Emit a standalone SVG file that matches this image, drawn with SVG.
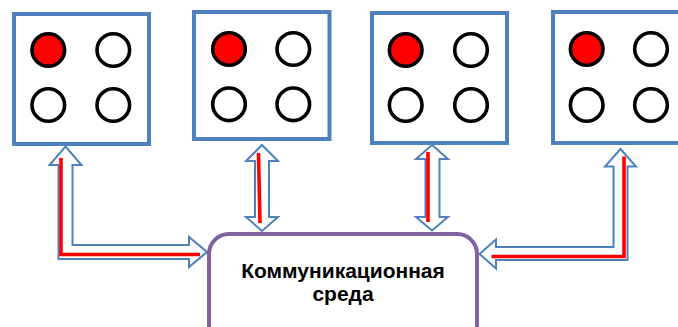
<svg xmlns="http://www.w3.org/2000/svg" width="678" height="327" viewBox="0 0 678 327">
<style>
.box{fill:#fff;stroke:#4F81BD;stroke-width:4}
.c{fill:#fff;stroke:#000;stroke-width:3.6}
.r{fill:#FF0000}
.arr{fill:#fff;stroke:#4F81BD;stroke-width:2;stroke-linejoin:miter}
.red{fill:none;stroke:#FF0000;stroke-width:3.6;stroke-linejoin:miter}
.hub{fill:#fff;stroke:#8064A2;stroke-width:4}
.t{font-family:"Liberation Sans",Arial,sans-serif;font-weight:bold;font-size:21px;fill:#000;text-anchor:middle}
</style>
<rect width="678" height="327" fill="#fff"/>
<g id="connectors">
<polygon class="arr" points="65.5,146.5 81.5,165 72.5,165 72.5,245 189,245 189,237 207,252 189,267 189,259 58.5,259 58.5,165 49.5,165"/>
<polyline class="red" points="61,158 61,254.5 200,254.5"/>
<polygon class="arr" points="262,145 278,161 269,161 269,217 278,217 262,231 246,217 255,217 255,161 246,161"/>
<line class="red" x1="258.5" y1="153" x2="260" y2="223"/>
<polygon class="arr" points="432,145 448,159 439.5,159 439.5,217 448,217 432,230.5 416,217 425.5,217 425.5,159 416,159"/>
<line class="red" x1="428" y1="152" x2="428" y2="222"/>
<polygon class="arr" points="620.5,149 636,166.5 627.5,166.5 627.5,260 496,260 496,268.5 479.5,254 496,239.5 496,247 613.5,247 613.5,166.5 605,166.5"/>
<polyline class="red" points="624,156.5 624,256.5 491.5,256.5"/>
</g>
<g id="node1">
<rect class="box" x="14" y="14" width="135" height="130"/>
<circle class="c r" cx="48.3" cy="50" r="16.3"/>
<circle class="c" cx="113.3" cy="50" r="16.3"/>
<circle class="c" cx="48.3" cy="105" r="16.3"/>
<circle class="c" cx="113.3" cy="105" r="16.3"/>
</g>
<g id="node2">
<rect class="box" x="194" y="12" width="135.5" height="127"/>
<circle class="c r" cx="229" cy="49" r="16.3"/>
<circle class="c" cx="293.3" cy="49" r="16.3"/>
<circle class="c" cx="229" cy="104.3" r="16.3"/>
<circle class="c" cx="293.3" cy="104.3" r="16.3"/>
</g>
<g id="node3">
<rect class="box" x="372" y="13" width="135" height="130"/>
<circle class="c r" cx="405.7" cy="50" r="16.3"/>
<circle class="c" cx="471" cy="50" r="16.3"/>
<circle class="c" cx="405.7" cy="105" r="16.3"/>
<circle class="c" cx="471" cy="105" r="16.3"/>
</g>
<g id="node4">
<rect class="box" x="553" y="12" width="135" height="131"/>
<circle class="c r" cx="586.7" cy="49" r="16.3"/>
<circle class="c" cx="651" cy="49" r="16.3"/>
<circle class="c" cx="586.7" cy="105" r="16.3"/>
<circle class="c" cx="651" cy="105" r="16.3"/>
</g>
<g id="hub">
<rect class="hub" x="209" y="234" width="268" height="130" rx="20" ry="20"/>
<text class="t" x="343" y="278">Коммуникационная</text>
<text class="t" x="343" y="301">среда</text>
</g>
</svg>
